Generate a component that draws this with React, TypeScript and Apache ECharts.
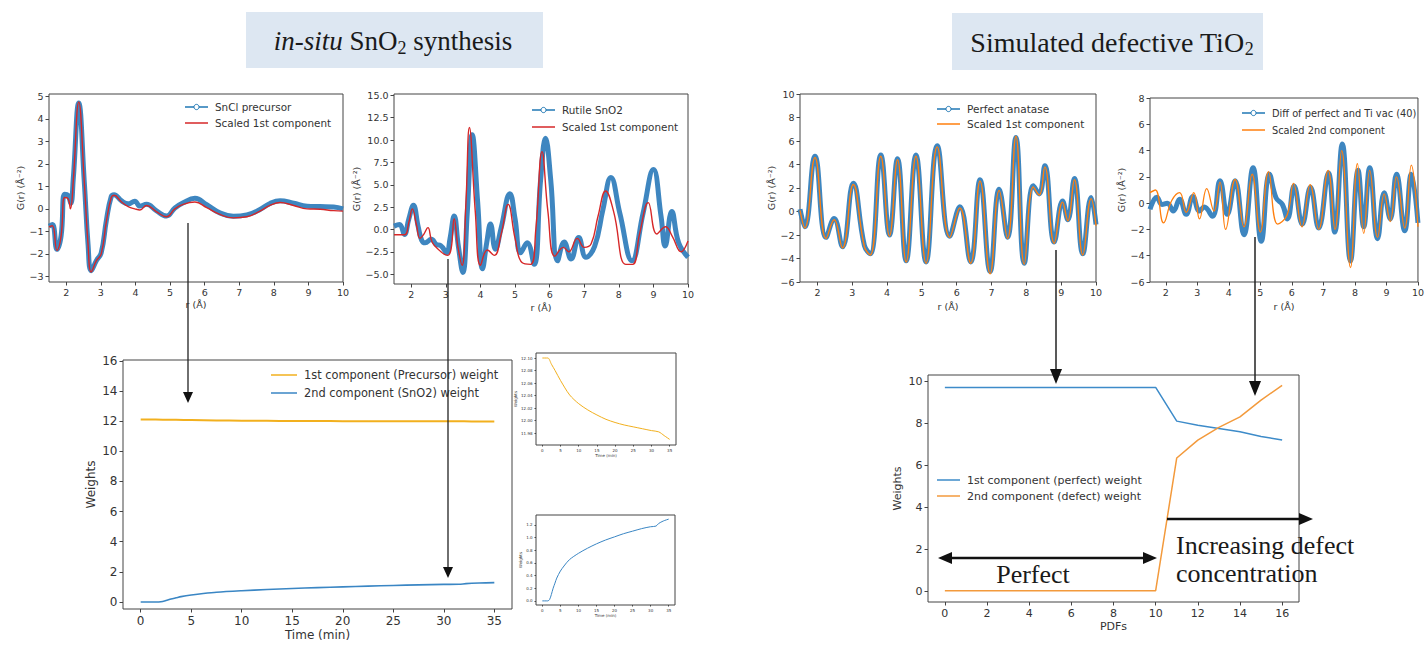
import React, { useEffect, useRef } from 'react';
import * as echarts from 'echarts';

// ---------- data ----------
// Panel: SnCl precursor vs scaled 1st component  [r, G(r)]
const snclPrecursor: number[][] = [[1.5,-0.77],[1.6,-0.7],[1.73,-1.8],[1.85,-1.2],[1.95,0.65],[2.05,0.6],[2.13,0.25],[2.2,1.3],[2.36,4.7],[2.52,1.2],[2.63,-1.6],[2.72,-2.75],[2.87,-2.3],[3.01,-1.95],[3.16,-0.5],[3.3,0.55],[3.38,0.63],[3.6,0.35],[3.79,0.22],[3.98,0.34],[4.13,0.12],[4.32,0.2],[4.6,-0.08],[4.9,-0.32],[5.14,0.04],[5.38,0.27],[5.72,0.47],[6.06,0.18],[6.44,-0.18],[6.83,-0.33],[7.22,-0.27],[7.6,-0.03],[7.89,0.24],[8.18,0.36],[8.57,0.25],[8.96,0.12],[9.34,0.1],[9.73,0.08],[10,0.0]];
const snclScaled1st: number[][] = [[1.5,-0.8],[1.6,-0.75],[1.73,-1.85],[1.85,-1.2],[1.95,0.5],[2.05,0.45],[2.12,0.0],[2.2,1.2],[2.36,4.75],[2.52,1.2],[2.63,-1.6],[2.72,-2.8],[2.87,-2.3],[3.01,-2.0],[3.16,-0.55],[3.3,0.5],[3.38,0.6],[3.6,0.3],[3.79,0.1],[3.98,0.0],[4.13,-0.05],[4.32,0.15],[4.6,-0.12],[4.9,-0.35],[5.14,0.0],[5.38,0.2],[5.72,0.3],[6.06,0.05],[6.44,-0.25],[6.83,-0.4],[7.22,-0.35],[7.6,-0.1],[7.89,0.15],[8.18,0.28],[8.57,0.15],[8.96,0.0],[9.34,-0.02],[9.73,-0.08],[10,-0.1]];

// Panel: Rutile SnO2 vs scaled 1st component
const rutileSnO2: number[][] = [[1.5,0.37],[1.66,0.55],[1.8,-0.55],[1.93,1.2],[2.06,2.7],[2.2,0.3],[2.3,-1.2],[2.4,-1.5],[2.58,-1.1],[2.73,-1.7],[2.85,-1.8],[3.02,-2.6],[3.12,-1.0],[3.24,1.5],[3.36,-1.85],[3.49,-4.8],[3.62,2.0],[3.76,10.6],[3.92,3.0],[4.06,-4.4],[4.18,-1.5],[4.29,0.6],[4.43,-2.2],[4.6,0.2],[4.85,4.0],[5.0,1.2],[5.16,-2.6],[5.35,-1.5],[5.55,-3.9],[5.74,5.6],[5.88,10.2],[6.03,5.6],[6.23,-3.5],[6.42,-1.4],[6.62,-3.3],[6.84,-0.9],[7.05,-3.1],[7.3,-1.9],[7.54,2.2],[7.77,5.8],[8.03,1.8],[8.38,-3.5],[8.7,1.8],[9.0,6.7],[9.22,1.5],[9.34,-1.85],[9.53,2.0],[9.73,-1.5],[10,-3.1]];
const rutileScaled1st: number[][] = [[1.5,-0.6],[1.8,-0.6],[1.93,0.8],[2.03,2.3],[2.15,0.5],[2.25,-1.0],[2.35,-0.6],[2.48,0.2],[2.6,-1.4],[2.8,-2.3],[3.05,-2.9],[3.15,-2.2],[3.24,1.2],[3.35,-2.0],[3.47,-4.0],[3.58,3.0],[3.68,11.4],[3.85,2.0],[4.0,-4.0],[4.2,-2.3],[4.4,-2.9],[4.6,-0.5],[4.8,2.8],[5.0,-1.0],[5.2,-3.7],[5.45,-3.9],[5.6,0.0],[5.78,8.7],[5.95,2.0],[6.15,-3.0],[6.4,-2.0],[6.55,-2.5],[6.8,-1.0],[7.0,-2.0],[7.2,-1.6],[7.4,1.5],[7.62,4.3],[7.85,2.0],[8.2,-3.9],[8.4,-3.9],[8.6,-0.5],[8.85,3.0],[9.1,-0.5],[9.35,0.3],[9.55,-0.8],[9.8,-2.5],[10,-1.3]];

// Panel: Perfect anatase vs scaled 1st component
const perfectAnatase: number[][] = [[1.5,0.2],[1.64,-1.3],[1.93,4.7],[2.25,-2.2],[2.48,-0.6],[2.72,-3.0],[3.03,2.4],[3.35,-2.9],[3.52,-3.6],[3.82,4.8],[4.07,-2.0],[4.3,4.5],[4.55,-4.2],[4.83,4.8],[5.12,-4.3],[5.44,5.6],[5.8,-2.1],[6.09,0.4],[6.4,-4.3],[6.67,2.7],[6.96,-5.1],[7.22,1.9],[7.46,-2.2],[7.7,6.3],[7.94,-4.4],[8.2,2.2],[8.37,1.5],[8.53,3.9],[8.8,-2.6],[9.04,0.9],[9.19,-0.7],[9.38,2.8],[9.62,-3.6],[9.86,1.2],[10,-1.1]];
const anataseScaled1st: number[][] = [[1.5,0.1],[1.64,-1.4],[1.93,4.6],[2.25,-2.3],[2.48,-0.7],[2.72,-3.1],[3.03,2.3],[3.35,-3.0],[3.52,-3.7],[3.82,4.7],[4.07,-2.1],[4.3,4.4],[4.55,-4.3],[4.83,4.7],[5.12,-4.4],[5.44,5.5],[5.8,-2.2],[6.09,0.3],[6.4,-4.4],[6.67,2.6],[6.96,-5.3],[7.22,1.8],[7.46,-2.3],[7.7,6.4],[7.94,-4.5],[8.2,2.1],[8.37,1.4],[8.53,3.8],[8.8,-2.7],[9.04,0.8],[9.19,-0.8],[9.38,2.7],[9.62,-3.7],[9.86,1.1],[10,-1.2]];

// Panel: Diff of perfect and Ti vac (40) vs scaled 2nd component
const diffTiVac: number[][] = [[1.5,-0.46],[1.72,0.45],[1.88,-0.1],[2.05,0.0],[2.24,-0.6],[2.44,0.3],[2.65,-0.85],[2.86,0.5],[3.07,-0.6],[3.22,-0.3],[3.48,-1.0],[3.72,1.7],[3.95,-0.85],[4.2,1.7],[4.48,-2.4],[4.77,2.7],[5.03,-2.9],[5.29,2.2],[5.5,0.4],[5.7,-0.1],[5.86,-1.2],[6.07,1.3],[6.33,-1.6],[6.59,1.2],[6.85,-1.9],[7.16,2.3],[7.36,-2.2],[7.6,4.5],[7.86,-4.4],[8.1,2.5],[8.28,-1.8],[8.47,2.7],[8.72,-2.7],[8.93,0.8],[9.12,-1.2],[9.32,2.2],[9.58,-2.1],[9.79,2.2],[10,-1.5]];
const diffScaled2nd: number[][] = [[1.5,0.8],[1.67,1.0],[1.93,-1.5],[2.19,0.2],[2.44,0.8],[2.65,-0.7],[2.89,0.8],[3.07,-1.2],[3.3,1.1],[3.53,-0.6],[3.72,1.6],[3.9,-2.0],[4.2,1.8],[4.48,-1.8],[4.74,2.2],[5.0,-2.2],[5.26,2.4],[5.55,-1.6],[5.85,-0.9],[6.05,1.5],[6.32,-1.8],[6.58,1.4],[6.85,-2.0],[7.15,2.5],[7.37,-2.0],[7.58,4.0],[7.86,-4.9],[8.08,3.0],[8.28,-2.3],[8.47,2.5],[8.72,-2.6],[8.93,0.7],[9.12,-1.4],[9.32,2.0],[9.58,-1.9],[9.79,2.9],[10,-1.8]];

// Panel: weights vs time (min)
const precursorTime = [0, 1.5, 2.5, 3.5, 5, 7.5, 10, 12.5, 15, 17.5, 20, 22.5, 25, 27.5, 30, 32, 33.5, 35];
const precursorWeight = [12.1, 12.1, 12.09, 12.08, 12.064, 12.041, 12.027, 12.017, 12.009, 12.002, 11.997, 11.993, 11.99, 11.987, 11.984, 11.982, 11.976, 11.97];
const sno2Time = [0, 1.5, 2, 2.5, 3, 3.5, 4, 5, 6, 7.5, 10, 12.5, 15, 17.5, 20, 22.5, 25, 27.5, 30, 31.5, 32.2, 33.5, 35];
const sno2Weight = [0, 0, 0.02, 0.1, 0.2, 0.28, 0.36, 0.47, 0.55, 0.65, 0.75, 0.83, 0.9, 0.96, 1.01, 1.06, 1.1, 1.14, 1.17, 1.18, 1.22, 1.26, 1.29];

// Panel: weights vs PDFs
const pdfIndex = [0, 1, 2, 3, 4, 5, 6, 7, 8, 9, 10, 11, 12, 13, 14, 15, 16];
const perfectWeight = [9.7, 9.7, 9.7, 9.7, 9.7, 9.7, 9.7, 9.7, 9.7, 9.7, 9.7, 8.1, 7.9, 7.75, 7.6, 7.37, 7.2];
const defectWeight = [0.05, 0.05, 0.05, 0.05, 0.05, 0.05, 0.05, 0.05, 0.05, 0.05, 0.05, 6.35, 7.2, 7.8, 8.3, 9.1, 9.8];

// tick labels
const rTicks = [2, 3, 4, 5, 6, 7, 8, 9, 10];
const snclGTicks = [-3, -2, -1, 0, 1, 2, 3, 4, 5];
const rutileGTicks = [-5, -2.5, 0, 2.5, 5, 7.5, 10, 12.5, 15];
const anataseGTicks = [-6, -4, -2, 0, 2, 4, 6, 8, 10];
const diffGTicks = [-6, -4, -2, 0, 2, 4, 6, 8];
const timeTicks = [0, 5, 10, 15, 20, 25, 30, 35];
const weightTicks = [0, 2, 4, 6, 8, 10, 12, 14, 16];
const insetTopTicks = [11.98, 12.0, 12.02, 12.04, 12.06, 12.08, 12.1];
const insetBottomTicks = [0, 0.2, 0.4, 0.6, 0.8, 1.0, 1.2];
const pdfTicks = [0, 2, 4, 6, 8, 10, 12, 14, 16];
const pdfWeightTicks = [0, 2, 4, 6, 8, 10];

// ---------- styling helpers ----------
const FONT = 'DejaVu Sans';
const SERIF = 'Liberation Serif';
const TXT = '#333';
const TITLE = '#1a1a1a';
const FRAME = '#444';
const BLUE = '#1f77b4';
const RED = '#d62728';
const ORANGE = '#ff7f0e';
const GOLD = '#f2b01e';

const minus = (s: string) => s.replace('-', '\u2212');
const fmtInt = (v: number) => minus(String(v));
const fmt1 = (v: number) => minus(v.toFixed(1));
const fmt2 = (v: number) => minus(v.toFixed(2));

function grid(left: number, top: number, width: number, height: number) {
  return { left, top, width, height, show: true, borderColor: FRAME, borderWidth: 1, backgroundColor: 'transparent' };
}

function axis(gi: number, min: number, max: number, ticks: number[], fs: number, fmt: (v: number) => string, name: string, gap: number, tickLen = 3.5) {
  return {
    type: 'value', gridIndex: gi, min, max, scale: true,
    axisLine: { show: false, onZero: false },
    splitLine: { show: false },
    axisTick: { show: true, inside: false, length: tickLen, lineStyle: { color: FRAME, width: 1 }, customValues: ticks },
    axisLabel: { show: true, customValues: ticks, fontSize: fs, color: TXT, fontFamily: FONT, margin: tickLen + 2, formatter: fmt },
    name, nameLocation: 'middle', nameGap: gap,
    nameTextStyle: { fontSize: fs, color: TXT, fontFamily: FONT },
  };
}

function band(idx: number, data: number[][]) {
  return {
    type: 'line', xAxisIndex: idx, yAxisIndex: idx, data, smooth: 0.45, symbol: 'none',
    lineStyle: { color: '#3480bd', width: 5, opacity: 0.95 }, z: 2,
  };
}
function thin(idx: number, data: number[][], color: string, width = 1.4, smooth: number | boolean = 0.45) {
  return {
    type: 'line', xAxisIndex: idx, yAxisIndex: idx, data, smooth, symbol: 'none',
    lineStyle: { color, width }, z: 3,
  };
}
const zip = (a: number[], b: number[]) => a.map((v, i) => [v, b[i]]);

function legend(x: number, ys: number[], items: { label: string; color: string; marker: boolean }[], fs: number, len = 23) {
  const els: any[] = [];
  items.forEach((it, i) => {
    const y = ys[i];
    els.push({ type: 'line', shape: { x1: x, y1: y, x2: x + len, y2: y }, style: { stroke: it.color, lineWidth: 1.5 }, z: 50 });
    if (it.marker) {
      els.push({ type: 'circle', shape: { cx: x + len / 2, cy: y, r: 2.6 }, style: { fill: '#fff', stroke: it.color, lineWidth: 1 }, z: 51 });
    }
    els.push({ type: 'text', x: x + len + 7, y, style: { text: it.label, fontSize: fs, fontFamily: FONT, fill: TXT, align: 'left', verticalAlign: 'middle' }, z: 51 });
  });
  return els;
}

function vArrow(x: number, y1: number, y2: number, w = 1.4, hw = 5, hl = 11) {
  return [
    { type: 'line', shape: { x1: x, y1, x2: x, y2: y2 - hl + 1 }, style: { stroke: '#222', lineWidth: w }, z: 60 },
    { type: 'polygon', shape: { points: [[x - hw, y2 - hl], [x + hw, y2 - hl], [x, y2]] }, style: { fill: '#111' }, z: 61 },
  ];
}

// Title made of pieces (for italic and subscript), laid out with measured widths
type Piece = { text: string; size: number; italic?: boolean; dy?: number };
function titlePieces(cx: number, cy: number, pieces: Piece[]) {
  const ctx = document.createElement('canvas').getContext('2d')!;
  const widths = pieces.map((p) => {
    ctx.font = `${p.italic ? 'italic ' : ''}${p.size}px "${SERIF}"`;
    return ctx.measureText(p.text).width;
  });
  const total = widths.reduce((a, b) => a + b, 0);
  let x = cx - total / 2;
  return pieces.map((p, i) => {
    const el = {
      type: 'text', x, y: cy + (p.dy || 0), z: 2,
      style: { text: p.text, fontSize: p.size, fontFamily: SERIF, fontStyle: p.italic ? 'italic' : 'normal', fill: TITLE, align: 'left', verticalAlign: 'middle' },
    };
    x += widths[i];
    return el;
  });
}

export default function App() {
  const ref = useRef<HTMLDivElement>(null);
  useEffect(() => {
    if (!ref.current) return;
    const chart = echarts.init(ref.current, undefined, { renderer: 'svg' });

    const gName = 'G(r) (\u00C5\u207B\u00B2)';
    const rName = 'r (\u00C5)';

    const option: any = {
      animation: false,
      backgroundColor: '#fff',
      grid: [
        grid(49, 94, 294, 188),
        grid(394, 94, 294, 190),
        grid(800, 94, 296, 188),
        grid(1150, 98, 276, 184),
        grid(123, 360, 389, 249),
        grid(536, 353, 140, 92),
        grid(536, 515, 139, 90),
        grid(928, 375, 371, 227),
      ],
      xAxis: [
        axis(0, 1.5, 10, rTicks, 9.5, fmtInt, rName, 17),
        axis(1, 1.5, 10, rTicks, 9.5, fmtInt, rName, 18),
        axis(2, 1.5, 10, rTicks, 9.5, fmtInt, rName, 19),
        axis(3, 1.5, 10, rTicks, 9.5, fmtInt, rName, 19),
        axis(4, -1.75, 36.75, timeTicks, 12, fmtInt, 'Time (min)', 20),
        axis(5, -1.75, 36.75, timeTicks, 4, fmtInt, 'Time (min)', 8, 1.5),
        axis(6, -1.75, 36.75, timeTicks, 4, fmtInt, 'Time (min)', 8, 1.5),
        axis(7, -0.8, 16.8, pdfTicks, 11, fmtInt, 'PDFs', 19),
      ],
      yAxis: [
        axis(0, -3.25, 5.1, snclGTicks, 9.5, fmtInt, gName, 18),
        axis(1, -6.1, 15.15, rutileGTicks, 9.5, fmt1, gName, 29),
        axis(2, -6, 10, anataseGTicks, 9.5, fmtInt, gName, 21),
        axis(3, -6, 8, diffGTicks, 9.5, fmtInt, gName, 19),
        axis(4, -0.46, 16.05, weightTicks, 12, fmtInt, 'Weights', 26),
        axis(5, 11.961, 12.108, insetTopTicks, 4, fmt2, 'Weights', 14, 1.5),
        axis(6, -0.065, 1.355, insetBottomTicks, 4, fmt1, 'Weights', 10, 1.5),
        axis(7, -0.49, 10.29, pdfWeightTicks, 11, fmtInt, 'Weights', 25),
      ],
      series: [
        band(0, snclPrecursor), thin(0, snclScaled1st, RED, 1.4),
        band(1, rutileSnO2), thin(1, rutileScaled1st, RED, 1.4),
        band(2, perfectAnatase), thin(2, anataseScaled1st, ORANGE, 1.4),
        band(3, diffTiVac), thin(3, diffScaled2nd, ORANGE, 1.3),
        thin(4, zip(precursorTime, precursorWeight), GOLD, 2, 0.3),
        thin(4, zip(sno2Time, sno2Weight), '#3a86c4', 1.6, 0.3),
        thin(5, zip(precursorTime, precursorWeight), GOLD, 1, 0.3),
        thin(6, zip(sno2Time, sno2Weight), '#3a86c4', 1, 0.3),
        thin(7, zip(pdfIndex, perfectWeight), '#3d8bc9', 1.5, false),
        thin(7, zip(pdfIndex, defectWeight), '#f39a3c', 1.5, false),
      ],
      graphic: {
        elements: [
          // title boxes
          { type: 'rect', shape: { x: 246, y: 12, width: 297, height: 56 }, style: { fill: '#dde7f2' }, z: 1 },
          ...titlePieces(393, 41, [
            { text: 'in-situ', size: 27, italic: true },
            { text: ' SnO', size: 27 },
            { text: '2', size: 18, dy: 7 },
            { text: ' synthesis', size: 27 },
          ]),
          { type: 'rect', shape: { x: 952, y: 13, width: 311, height: 57 }, style: { fill: '#dde7f2' }, z: 1 },
          ...titlePieces(1112, 42, [
            { text: 'Simulated defective TiO', size: 28 },
            { text: '2', size: 18, dy: 7 },
          ]),
          // legends
          ...legend(185, [107, 123], [
            { label: 'SnCl precursor', color: BLUE, marker: true },
            { label: 'Scaled 1st component', color: RED, marker: false },
          ], 10.4),
          ...legend(532, [110, 127], [
            { label: 'Rutile SnO2', color: BLUE, marker: true },
            { label: 'Scaled 1st component', color: RED, marker: false },
          ], 10.4),
          ...legend(937, [109, 124], [
            { label: 'Perfect anatase', color: BLUE, marker: true },
            { label: 'Scaled 1st component', color: ORANGE, marker: false },
          ], 10.5),
          ...legend(1242, [113, 130], [
            { label: 'Diff of perfect and Ti vac (40)', color: BLUE, marker: true },
            { label: 'Scaled 2nd component', color: ORANGE, marker: false },
          ], 9.8),
          ...legend(271, [375, 393], [
            { label: '1st component (Precursor) weight', color: GOLD, marker: false },
            { label: '2nd component (SnO2) weight', color: '#3a86c4', marker: false },
          ], 11.4, 26),
          ...legend(937, [480, 496], [
            { label: '1st component (perfect) weight', color: '#3d8bc9', marker: false },
            { label: '2nd component (defect) weight', color: '#f39a3c', marker: false },
          ], 11),
          // vertical arrows
          ...vArrow(188, 223, 403, 1.3, 5, 11),
          ...vArrow(448, 259, 578, 1.3, 5, 11),
          ...vArrow(1056, 250, 384, 1.5, 6, 15),
          ...vArrow(1255, 237, 396, 1.5, 6, 15),
          // double arrow "Perfect"
          { type: 'line', shape: { x1: 950, y1: 558, x2: 1145, y2: 558 }, style: { stroke: '#111', lineWidth: 2.5 }, z: 60 },
          { type: 'polygon', shape: { points: [[938, 558], [952, 552], [952, 564]] }, style: { fill: '#111' }, z: 61 },
          { type: 'polygon', shape: { points: [[1157, 558], [1143, 552], [1143, 564]] }, style: { fill: '#111' }, z: 61 },
          // right arrow
          { type: 'line', shape: { x1: 1167, y1: 519, x2: 1300, y2: 519 }, style: { stroke: '#111', lineWidth: 2.5 }, z: 60 },
          { type: 'polygon', shape: { points: [[1313, 519], [1299, 513], [1299, 525]] }, style: { fill: '#111' }, z: 61 },
          // annotations
          { type: 'text', x: 1033, y: 574, z: 62, style: { text: 'Perfect', fontSize: 26, fontFamily: SERIF, fill: TITLE, align: 'center', verticalAlign: 'middle' } },
          { type: 'text', x: 1176, y: 531, z: 62, style: { text: 'Increasing defect\nconcentration', fontSize: 26, lineHeight: 28, fontFamily: SERIF, fill: TITLE, align: 'left', verticalAlign: 'top' } },
        ],
      },
    };
    chart.setOption(option);
    return () => chart.dispose();
  }, []);
  return <div ref={ref} style={{ position: 'fixed', left: 0, top: 0, width: 1427, height: 646, background: '#fff' }} />;
}
